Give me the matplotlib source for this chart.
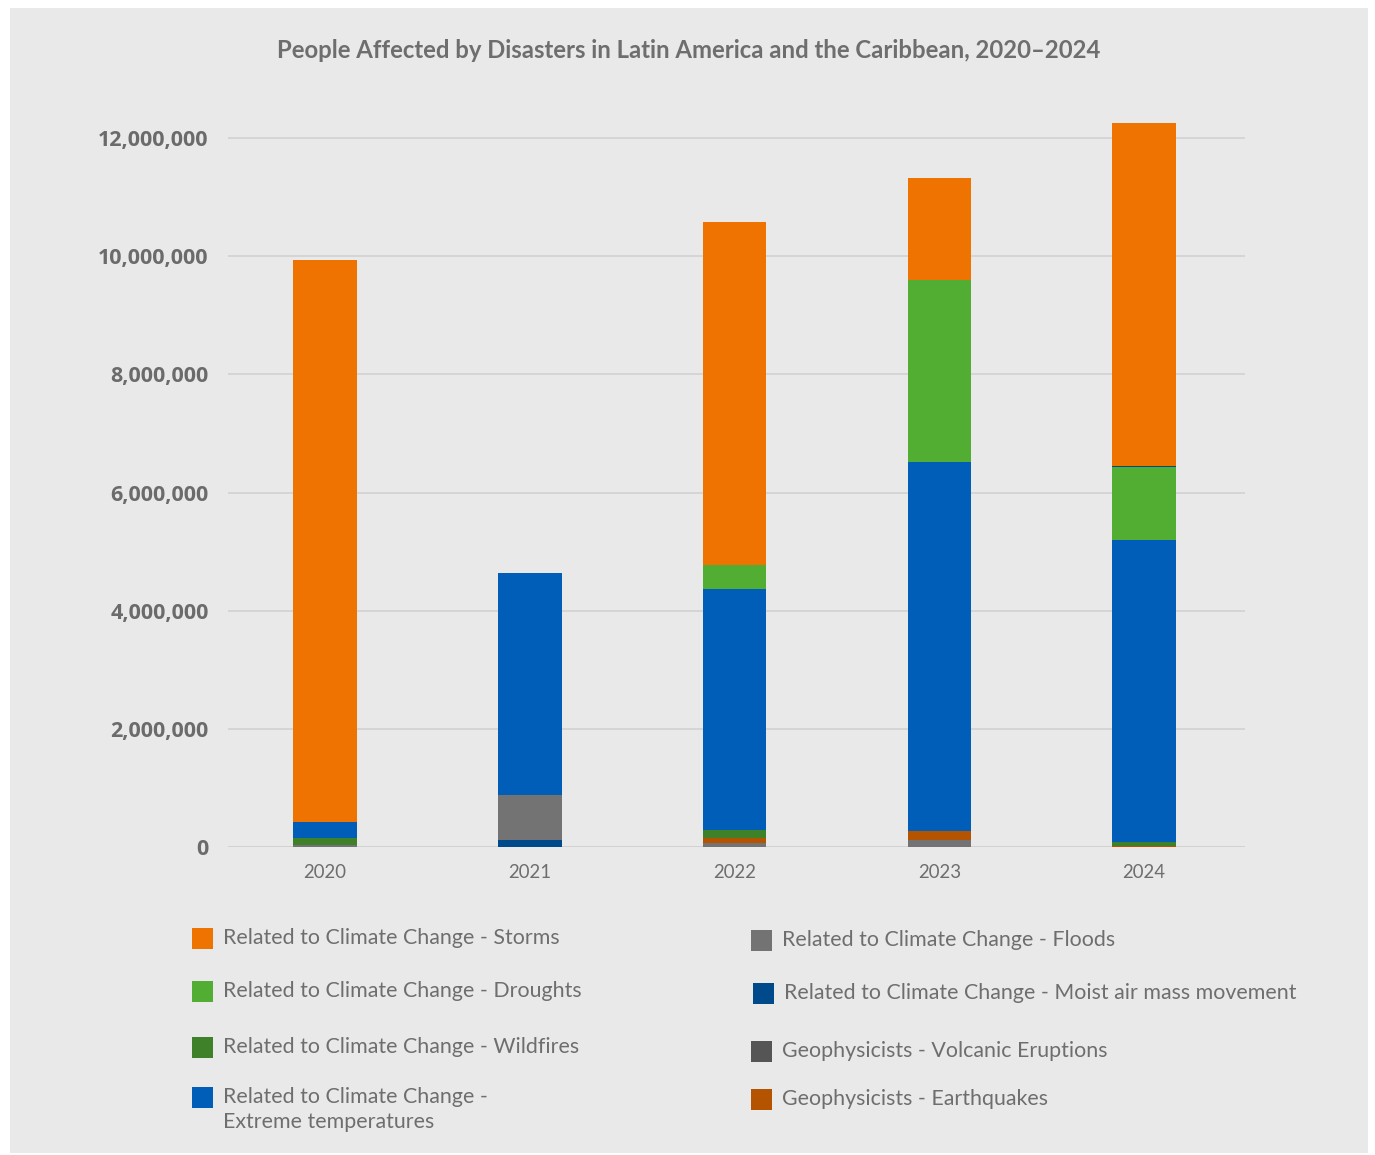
import numpy as np
import matplotlib.pyplot as plt
from matplotlib.patches import Rectangle
from matplotlib.ticker import FuncFormatter

# ---------------- DATA ----------------

years = ["2020", "2021", "2022", "2023", "2024"]

storms = [9520000, 0, 5820000, 1730000, 5800000]
floods = [30000, 750000, 60000, 113000, 0]
droughts = [0, 0, 400000, 3080000, 1240000]
moist_air = [0, 125000, 0, 0, 20000]
wildfires = [130000, 0, 135000, 0, 62000]
volcanic = [0, 0, 0, 0, 0]
extreme_temps = [260000, 3760000, 4070000, 6250000, 5110000]
earthquakes = [0, 0, 100000, 152000, 20000]

series = {
    "Related to Climate Change - Storms": (storms, "#ef7300"),
    "Related to Climate Change - Floods": (floods, "#737373"),
    "Related to Climate Change - Droughts": (droughts, "#52ad33"),
    "Related to Climate Change - Moist air mass movement": (moist_air, "#004a8c"),
    "Related to Climate Change - Wildfires": (wildfires, "#3e8128"),
    "Geophysicists - Volcanic Eruptions": (volcanic, "#555555"),
    "Related to Climate Change -\nExtreme temperatures": (extreme_temps, "#005eb8"),
    "Geophysicists - Earthquakes": (earthquakes, "#b45400"),
}
names = list(series.keys())
STO, FLO, DRO, MOI, WIL, VOL, EXT, EAR = names

# stacking order (bottom -> top) differs by year in the source chart
stack_order = {
    "2020": [VOL, FLO, EAR, WIL, EXT, DRO, MOI, STO],
    "2021": [VOL, MOI, FLO, EAR, WIL, EXT, DRO, STO],
    "2022": [VOL, FLO, EAR, WIL, EXT, DRO, MOI, STO],
    "2023": [VOL, FLO, EAR, WIL, EXT, DRO, MOI, STO],
    "2024": [VOL, FLO, EAR, WIL, EXT, DRO, MOI, STO],
}

# ---------------- FIGURE ----------------

plt.rcParams['font.family'] = ['Lato', 'DejaVu Sans']
text_gray = "#6e6e6e"
bg = "#e9e9e9"

fig = plt.figure(figsize=(13.75, 11.55), dpi=100)
fig.patch.set_facecolor("white")
fig.patches.append(Rectangle((10 / 1375, 2 / 1155), 1358 / 1375, 1145 / 1155,
                             transform=fig.transFigure, facecolor=bg,
                             edgecolor="none", zorder=-10))

fig.text(0.501, 1 - 51 / 1155,
         "People Affected by Disasters in Latin America and the Caribbean, 2020\u20132024",
         ha="center", va="center", fontsize=17.2, fontweight="bold", color=text_gray)

ax = fig.add_axes([228 / 1375, 308 / 1155, 1017 / 1375, 768 / 1155])
ax.set_facecolor("none")

x = np.arange(len(years))
for i, yr in enumerate(years):
    bottom = 0
    for name in stack_order[yr]:
        vals, col = series[name]
        v = vals[i]
        if v > 0:
            ax.bar(x[i], v, bottom=bottom, width=0.31, color=col,
                   edgecolor="none", zorder=3)
        bottom += v

ax.set_xlim(-0.474, 4.493)
ax.set_ylim(0, 13000000)
ax.set_yticks(np.arange(0, 12000001, 2000000))
ax.yaxis.set_major_formatter(FuncFormatter(lambda v, p: f"{int(v):,}"))
ax.set_xticks(x)
ax.set_xticklabels(years)

ax.grid(axis="y", color="#d2d2d2", linewidth=1.2, zorder=0)
for s in ax.spines.values():
    s.set_visible(False)
ax.axhline(0, color="#d2d2d2", linewidth=2, zorder=2)

ax.tick_params(axis="both", length=0)
ax.tick_params(axis="y", pad=14, labelcolor="#6b6b6b")
ax.tick_params(axis="x", pad=12, labelsize=13.4, labelcolor=text_gray)
for lbl in ax.get_yticklabels():
    lbl.set_family(["Open Sans", "DejaVu Sans"])
    lbl.set_fontweight("bold")
    lbl.set_fontsize(15.5)

# ---------------- LEGEND ----------------

legend_pos = {
    STO: (192, 938), DRO: (192, 991), WIL: (192, 1047), EXT: (192, 1097),
    FLO: (751, 940), MOI: (753, 993), VOL: (751, 1051), EAR: (751, 1099),
}
for name, (px, py) in legend_pos.items():
    col = series[name][1]
    fig.patches.append(Rectangle((px / 1375, 1 - (py + 10.5) / 1155), 21 / 1375, 21 / 1155,
                                 transform=fig.transFigure, facecolor=col,
                                 edgecolor="none"))
    for k, line in enumerate(name.split("\n")):
        fig.text((px + 31) / 1375, 1 - (py + 25 * k) / 1155, line, ha="left",
                 va="center", fontsize=15.4, color=text_gray)

fig.savefig("out.png", dpi=100, facecolor=fig.get_facecolor())
